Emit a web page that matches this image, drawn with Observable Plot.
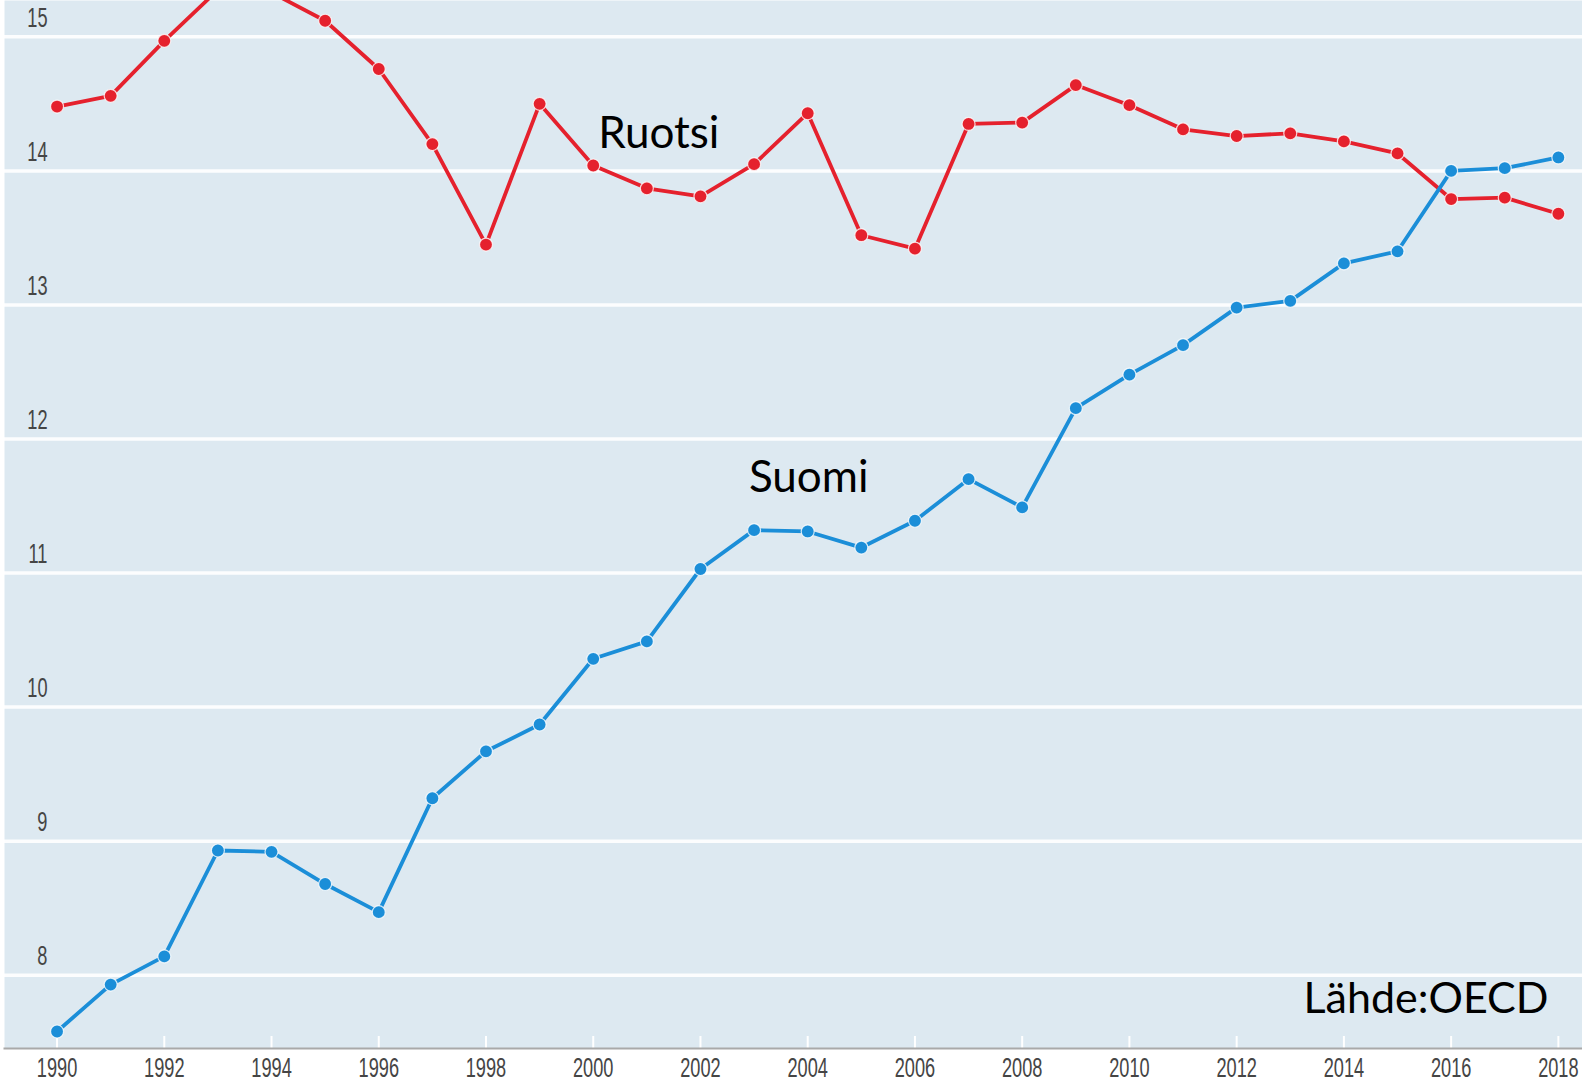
<!DOCTYPE html>
<html>
<head>
<meta charset="utf-8">
<script src="https://cdn.jsdelivr.net/npm/d3@7"></script>
<script src="https://cdn.jsdelivr.net/npm/@observablehq/plot@0.6"></script>
<style>
  html, body { margin: 0; padding: 0; background: #ffffff; }
  #chart svg { display: block; }
</style>
</head>
<body>
<div id="chart"></div>
<script>
// Years
const years = [1990,1991,1992,1993,1994,1995,1996,1997,1998,1999,2000,2001,2002,2003,2004,2005,2006,2007,2008,2009,2010,2011,2012,2013,2014,2015,2016,2017,2018];
// Ruotsi (Sweden)
const ruotsi = [14.48,14.56,14.97,15.35,15.33,15.12,14.76,14.20,13.45,14.50,14.04,13.87,13.81,14.05,14.43,13.52,13.42,14.35,14.36,14.64,14.49,14.31,14.26,14.28,14.22,14.13,13.79,13.80,13.68];
// Suomi (Finland)
const suomi = [7.58,7.93,8.14,8.93,8.92,8.68,8.47,9.32,9.67,9.87,10.36,10.49,11.03,11.32,11.31,11.19,11.39,11.70,11.49,12.23,12.48,12.70,12.98,13.03,13.31,13.40,14.00,14.02,14.10];
// Tick values
const yTicks = [8,9,10,11,12,13,14,15];
const xTicks = [1990,1992,1994,1996,1998,2000,2002,2004,2006,2008,2010,2012,2014,2016,2018];
// Series names and label anchor years
const seriesNames = ["Ruotsi","Suomi"];
const labelYears = [2001, 2004];
const sourceText = "Lähde:OECD";

const rows = [];
years.forEach((yr, i) => {
  rows.push({series: "Ruotsi", year: yr, value: ruotsi[i]});
  rows.push({series: "Suomi", year: yr, value: suomi[i]});
});
const labels = seriesNames.map((s, k) => rows.find(r => r.series === s && r.year === labelYears[k]));

const colors = {domain: ["Ruotsi","Suomi"], range: ["#e5212d","#1b8ed8"]};
const tickFont = "'Liberation Sans', Arial, sans-serif";
const annFont = "Lato, 'Open Sans', sans-serif";

const chart = Plot.plot({
  width: 1582,
  height: 1084,
  marginLeft: 4,
  marginRight: 0,
  marginTop: 0,
  marginBottom: 36,
  style: {background: "#ffffff", overflow: "visible"},
  x: {domain: [1989.02, 2018.45], label: null},
  y: {domain: [7.453, 15.271], label: null, axis: null},
  color: colors,
  marks: [
    Plot.frame({fill: "#dde9f1", stroke: null}),
    Plot.ruleY(yTicks, {stroke: "#ffffff", strokeWidth: 3.5, strokeOpacity: 0.9}),
    Plot.ruleX(xTicks, {x: d => d, stroke: "#ffffff", strokeWidth: 2, insetTop: 1036}),
    Plot.frame({anchor: "bottom", stroke: "#a9a9a9", strokeWidth: 2}),
    Plot.text(yTicks, {y: d => d, text: d => String(d), frameAnchor: "left", dx: 43, dy: -10, textAnchor: "end", lineAnchor: "bottom", fontSize: 28, fill: "#454545", fontFamily: tickFont, className: "narrow-y"}),
    Plot.axisX(xTicks, {tickSize: 0, tickPadding: 9, tickFormat: d => String(d), fontSize: 28, fill: "#454545", fontFamily: tickFont, className: "narrow-x"}),
    Plot.line(rows, {x: "year", y: "value", z: "series", stroke: "series", strokeWidth: 3.8}),
    Plot.dot(rows, {x: "year", y: "value", fill: "series", r: 6.5, stroke: "#ffffff", strokeWidth: 1.2, strokeOpacity: 0.8}),
    Plot.text(labels, {x: "year", y: "value", text: "series", dx: 12, dy: -54, textAnchor: "middle", lineAnchor: "middle", fontSize: 44, fill: "#000000", fontFamily: annFont, filter: d => d.series === "Ruotsi"}),
    Plot.text(labels, {x: "year", y: "value", text: "series", dx: 1, dy: -54, textAnchor: "middle", lineAnchor: "middle", fontSize: 44, fill: "#000000", fontFamily: annFont, filter: d => d.series === "Suomi"}),
    Plot.text([sourceText], {text: d => d, frameAnchor: "bottom-right", dx: -34, dy: -49, textAnchor: "end", lineAnchor: "middle", fontSize: 43, fill: "#000000", fontFamily: annFont})
  ]
});

// Horizontally condense tick labels to mimic the narrow font of the original
function condense(sel, s) {
  chart.querySelectorAll(sel).forEach(t => {
    const tr = t.getAttribute("transform");
    if (tr) {
      t.setAttribute("transform", tr + ` scale(${s},1)`);
    } else {
      const x = +t.getAttribute("x") || 0, y = +t.getAttribute("y") || 0;
      t.removeAttribute("x"); t.removeAttribute("y");
      t.setAttribute("transform", `translate(${x},${y}) scale(${s},1)`);
    }
  });
}
condense(".narrow-x text", 0.65);
condense(".narrow-y text", 0.65);

document.getElementById("chart").appendChild(chart);
</script>
</body>
</html>
